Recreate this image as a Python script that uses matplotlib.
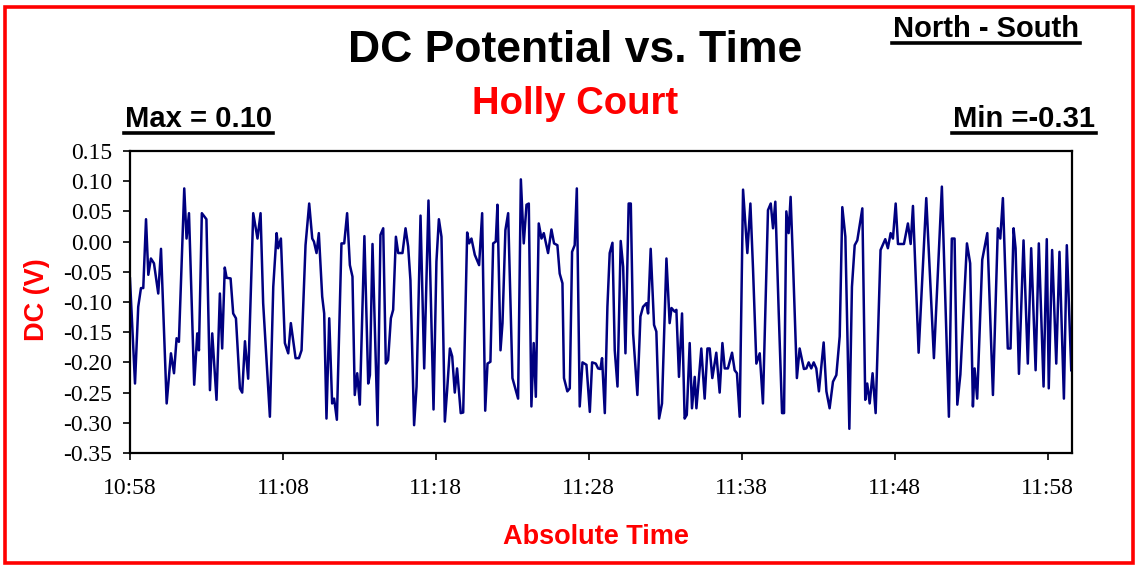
import matplotlib
matplotlib.use("Agg")
import matplotlib.pyplot as plt
from matplotlib.patches import Rectangle
from matplotlib.lines import Line2D

# minutes after 10:58 and DC potential (V)
t_min = [
    0.0, 0.33, 0.54, 0.72, 0.87, 1.05, 1.2, 1.37, 1.57, 1.85, 2.03, 2.4, 2.68, 2.88,
    3.05, 3.2, 3.55, 3.7, 3.86, 4.2, 4.4, 4.51, 4.7, 5.0, 5.23, 5.38, 5.66, 5.88,
    6.03, 6.2, 6.32, 6.58, 6.75, 6.93, 7.19, 7.34, 7.52, 7.73, 8.06, 8.34, 8.54,
    8.71, 9.0, 9.15, 9.37, 9.59, 9.69, 9.87, 10.13, 10.35, 10.52, 10.83, 11.05,
    11.22, 11.48, 11.72, 11.92, 12.03, 12.2, 12.35, 12.57, 12.7, 12.85, 13.03,
    13.22, 13.35, 13.53, 13.83, 14.01, 14.2, 14.38, 14.55, 14.7, 14.86, 15.03,
    15.33, 15.58, 15.69, 15.86, 16.19, 16.38, 16.56, 16.73, 16.88, 17.06, 17.21,
    17.39, 17.54, 17.82, 18.02, 18.19, 18.34, 18.58, 18.74, 19.0, 19.24, 19.52,
    19.67, 19.85, 20.04, 20.2, 20.37, 20.59, 20.74, 20.92, 21.07, 21.24, 21.39,
    21.63, 21.79, 22.05, 22.18, 22.33, 22.55, 22.83, 23.03, 23.23, 23.38, 23.57,
    23.75, 23.92, 24.03, 24.23, 24.36, 24.55, 24.73, 25.01, 25.23, 25.38, 25.56,
    25.75, 25.93, 26.08, 26.25, 26.4, 26.54, 26.73, 26.91, 27.06, 27.34, 27.56,
    27.73, 27.95, 28.1, 28.28, 28.38, 28.6, 28.76, 28.91, 29.08, 29.22, 29.41,
    29.59, 29.85, 30.07, 30.22, 30.46, 30.61, 30.76, 30.87, 31.05, 31.22, 31.37,
    31.55, 31.7, 31.88, 32.09, 32.25, 32.4, 32.61, 32.75, 32.9, 33.18, 33.38,
    33.55, 33.77, 33.88, 34.05, 34.27, 34.42, 34.6, 34.79, 35.08, 35.29, 35.41,
    35.62, 35.73, 35.9, 36.1, 36.27, 36.41, 36.6, 36.75, 36.93, 37.04, 37.36,
    37.58, 37.76, 37.91, 38.08, 38.34, 38.56, 38.74, 38.89, 39.1, 39.37, 39.54,
    39.69, 39.87, 40.09, 40.37, 40.57, 40.74, 40.96, 41.18, 41.39, 41.72, 41.9,
    42.05, 42.2, 42.42, 42.64, 42.77, 42.92, 43.07, 43.2, 43.35, 43.61, 43.79,
    44.07, 44.23, 44.38, 44.55, 44.71, 44.88, 45.05, 45.36, 45.54, 45.75, 45.97,
    46.19, 46.41, 46.58, 46.78, 47.04, 47.21, 47.39, 47.56, 47.89, 48.08, 48.21,
    48.37, 48.56, 48.76, 49.08, 49.39, 49.56, 49.74, 49.89, 50.07, 50.22, 50.61,
    50.87, 51.05, 51.2, 51.57, 52.07, 52.57, 53.09, 53.55, 53.74, 53.92, 54.1,
    54.3, 54.73, 54.94, 55.12, 55.23, 55.4, 55.73, 56.06, 56.43, 56.75, 56.91,
    57.08, 57.4, 57.58, 57.78, 57.91, 58.13, 58.43, 58.71, 58.93, 59.22, 59.43,
    59.74, 59.95, 60.08, 60.3, 60.57, 60.78, 61.07, 61.26, 61.55,
]
dc_v = [
    -0.061, -0.235, -0.108, -0.077, -0.077, 0.037, -0.055, -0.028, -0.036, -0.086,
    -0.012, -0.268, -0.185, -0.218, -0.16, -0.166, 0.088, 0.005, 0.047, -0.237,
    -0.152, -0.18, 0.047, 0.037, -0.246, -0.152, -0.262, -0.086, -0.177, -0.043,
    -0.06, -0.061, -0.119, -0.127, -0.243, -0.25, -0.165, -0.227, 0.047, 0.005,
    0.047, -0.102, -0.224, -0.29, -0.075, 0.014, -0.011, 0.005, -0.168, -0.185,
    -0.135, -0.193, -0.193, -0.18, -0.006, 0.063, 0.005, 0.0, -0.019, 0.014,
    -0.091, -0.119, -0.293, -0.127, -0.268, -0.26, -0.295, -0.003, -0.003, 0.047,
    -0.039, -0.058, -0.254, -0.218, -0.27, 0.009, -0.235, -0.221, -0.004, -0.304,
    0.011, 0.022, -0.202, -0.196, -0.127, -0.113, 0.008, -0.019, -0.019, 0.022,
    -0.008, -0.064, -0.304, -0.24, 0.043, -0.21, 0.068, -0.091, -0.278, -0.033,
    0.037, 0.008, -0.298, -0.246, -0.177, -0.19, -0.25, -0.21, -0.284, -0.283,
    0.015, -0.003, 0.005, -0.022, -0.039, 0.047, -0.28, -0.202, -0.199, -0.003,
    0.0, 0.061, -0.18, -0.135, 0.019, 0.047, -0.226, -0.246, -0.26, 0.103,
    -0.003, 0.061, 0.063, -0.273, -0.168, -0.257, 0.03, 0.005, 0.014, -0.019,
    0.02, -0.003, -0.006, -0.053, -0.069, -0.226, -0.248, -0.243, -0.017, -0.006,
    0.088, -0.273, -0.2, -0.204, -0.282, -0.2, -0.202, -0.21, -0.211, -0.193,
    -0.284, -0.108, -0.019, -0.002, -0.18, -0.24, 0.001, -0.042, -0.185, 0.063,
    0.063, -0.152, -0.254, -0.124, -0.108, -0.102, -0.119, -0.012, -0.138, -0.149,
    -0.293, -0.268, -0.028, -0.135, -0.11, -0.116, -0.113, -0.224, -0.119, -0.293,
    -0.287, -0.168, -0.276, -0.224, -0.276, -0.177, -0.26, -0.177, -0.177, -0.226,
    -0.184, -0.25, -0.168, -0.21, -0.21, -0.184, -0.213, -0.218, -0.29, 0.086,
    -0.019, 0.063, -0.044, -0.202, -0.185, -0.268, 0.052, 0.063, 0.022, 0.066,
    -0.116, -0.284, -0.284, 0.05, 0.014, 0.074, -0.03, -0.226, -0.177, -0.211,
    -0.21, -0.2, -0.21, -0.2, -0.21, -0.248, -0.167, -0.248, -0.276, -0.232,
    -0.221, -0.157, 0.057, 0.008, -0.31, -0.075, -0.006, 0.002, 0.055, -0.262,
    -0.235, -0.268, -0.218, -0.284, -0.014, 0.004, -0.011, 0.014, 0.005, 0.063,
    -0.004, -0.004, 0.03, -0.004, 0.059, -0.184, 0.072, -0.193, 0.091, -0.29,
    0.005, 0.005, -0.27, -0.22, -0.003, -0.036, -0.273, -0.21, -0.26, -0.03,
    0.014, -0.254, 0.022, 0.005, 0.072, -0.177, -0.177, 0.022, -0.011, -0.219,
    0.002, -0.202, -0.011, -0.213, -0.003, -0.24, 0.004, -0.243, -0.014, -0.202,
    -0.017, -0.26, -0.006, -0.213,
]

x_ticks = [0, 10, 20, 30, 40, 50, 60]
x_labels = ["10:58", "11:08", "11:18", "11:28", "11:38", "11:48", "11:58"]
y_ticks = [0.15, 0.10, 0.05, 0.00, -0.05, -0.10, -0.15, -0.20, -0.25, -0.30, -0.35]

fig = plt.figure(figsize=(11.35, 5.71), dpi=100)
ax = fig.add_axes([0.1145, 0.2067, 0.83, 0.5289])

ax.plot(t_min, dc_v, color="#000080", lw=1.8, solid_joinstyle="round")
ax.set_xlim(0, 61.6)
ax.set_ylim(-0.35, 0.15)
ax.set_xticks(x_ticks)
ax.set_xticklabels(x_labels)
ax.set_yticks(y_ticks)
ax.set_yticklabels([f"{v:.2f}" for v in y_ticks])
ax.tick_params(direction="out", length=5, width=1.2, pad=8,
               labelsize=17, labelfontfamily="Liberation Serif")
ax.tick_params(axis="x", pad=13)
for s in ax.spines.values():
    s.set_linewidth(1.6)

bold = dict(family="Liberation Sans", weight="bold")
fig.text(0.5066, 0.911, "DC Potential vs. Time", ha="center", va="center",
         fontsize=32, color="black", **bold)
fig.text(0.5066, 0.818, "Holly Court", ha="center", va="center",
         fontsize=27.5, color="red", **bold)
fig.text(0.0326, 0.4746, "DC (V)", ha="center", va="center", rotation=90,
         fontsize=19.5, color="red", **bold)
fig.text(0.525, 0.0595, "Absolute Time", ha="center", va="center",
         fontsize=19.5, color="red", **bold)

t_ns = fig.text(0.7868, 0.949, "North - South", ha="left", va="center",
                fontsize=21, color="black", **bold)
t_max = fig.text(0.110, 0.791, "Max = 0.10", ha="left", va="center",
                 fontsize=21, color="black", **bold)
t_min_lbl = fig.text(0.9648, 0.791, "Min =-0.31", ha="right", va="center",
                     fontsize=21, color="black", **bold)

# underline the corner labels
fig.canvas.draw()
r = fig.canvas.get_renderer()
W, H = fig.bbox.width, fig.bbox.height
for t in [t_ns, t_max, t_min_lbl]:
    bb = t.get_window_extent(renderer=r)
    y = bb.y0 / H
    fig.add_artist(Line2D([(bb.x0 - 1) / W, (bb.x1 + 1) / W], [y, y],
                          color="black", lw=2.6, transform=fig.transFigure))

fig.add_artist(Rectangle((0.0044, 0.014), 0.9938, 0.9737, fill=False,
                         edgecolor="red", lw=2.6, transform=fig.transFigure))

fig.savefig("out.png", dpi=100)
